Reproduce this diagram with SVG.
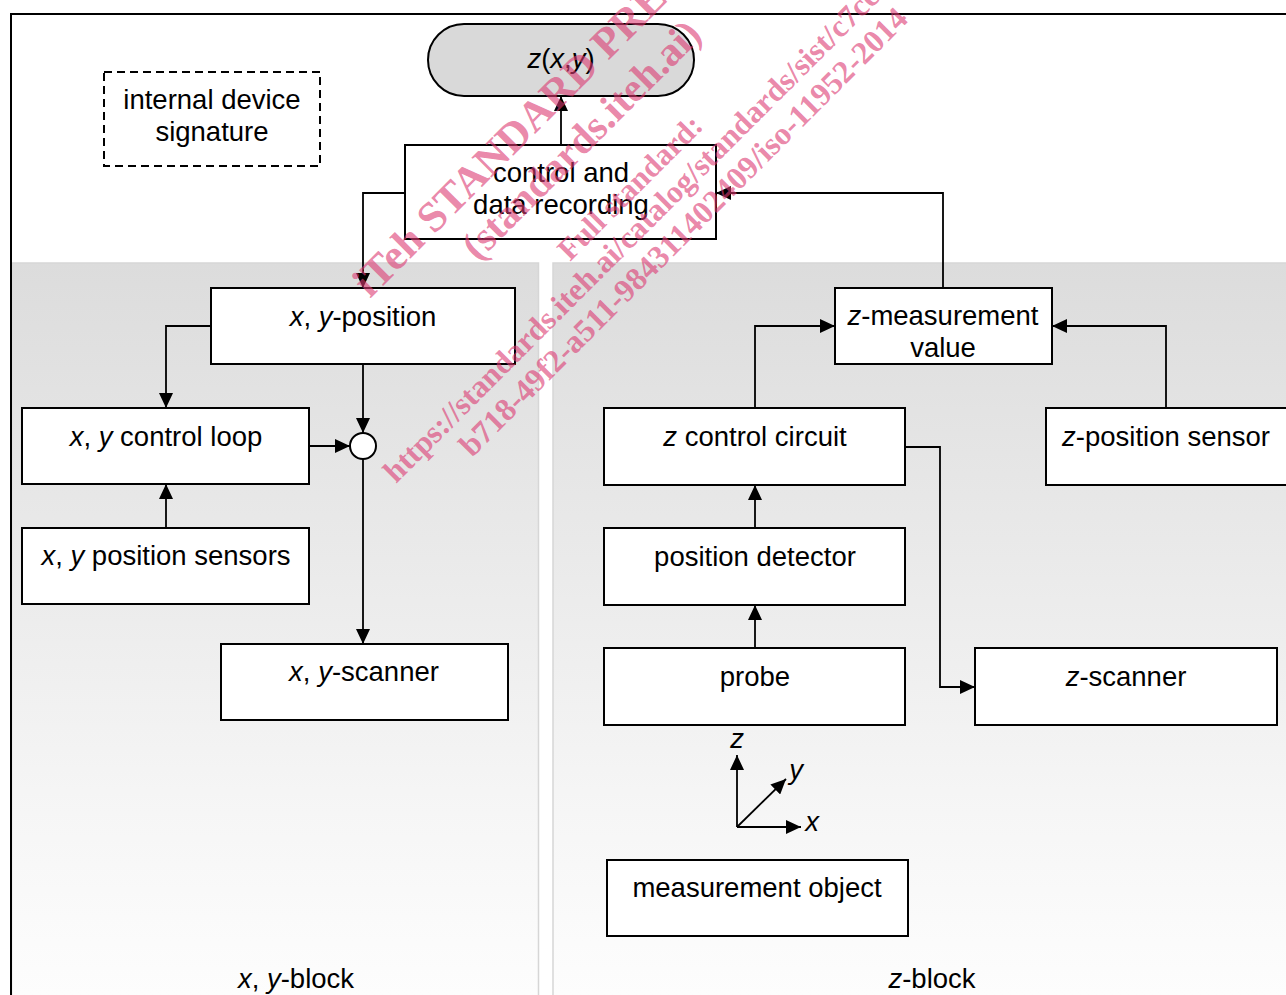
<svg xmlns="http://www.w3.org/2000/svg" width="1286" height="995" viewBox="0 0 1286 995">
<style>
.box{fill:#fff;stroke:#000;stroke-width:2}
.t{font-family:"Liberation Sans",Arial,sans-serif;font-size:27.5px;fill:#000;text-anchor:middle}
.i{font-style:italic}
.c{fill:none;stroke:#000;stroke-width:1.8;marker-end:url(#ah)}
.ax{fill:none;stroke:#000;stroke-width:1.8;marker-end:url(#ah)}
.wm{font-family:"Liberation Serif","Times New Roman",serif;font-weight:bold;fill:#dc3a72;fill-opacity:.62}
</style>
<defs>
<linearGradient id="g" gradientUnits="userSpaceOnUse" x1="0" y1="263" x2="0" y2="995">
<stop offset="0" stop-color="#dcdcdc"/>
<stop offset="0.75" stop-color="#f6f6f6"/>
<stop offset="1" stop-color="#fdfdfd"/>
</linearGradient>
<marker id="ah" markerUnits="userSpaceOnUse" markerWidth="15" markerHeight="14" refX="15" refY="7" orient="auto"><path d="M0,0 L15,7 L0,14 z" fill="#000"/></marker>
</defs>
<rect width="1286" height="995" fill="#fff"/>
<g id="blocks">
<rect x="11.5" y="263" width="527" height="740" fill="url(#g)" stroke="#d6d6d6" stroke-width="1.5"/>
<rect x="553" y="263" width="740" height="740" fill="url(#g)" stroke="#d6d6d6" stroke-width="1.5"/>
<path d="M11 995 V14 H1286" fill="none" stroke="#000" stroke-width="2"/>
<text class="t" x="296" y="988"><tspan class="i">x</tspan>, <tspan class="i">y</tspan>-block</text>
<text class="t" x="932" y="988"><tspan class="i">z</tspan>-block</text>
</g>
<g id="connectors">
<path class="c" d="M561 145 V96"/>
<path class="c" d="M405 193 H363 V288"/>
<path class="c" d="M943 288 V193 H716"/>
<path class="c" d="M211 326 H166 V408"/>
<path class="c" d="M363 364 V433"/>
<path class="c" d="M309 446 H350"/>
<path class="c" d="M363 459 V644"/>
<path class="c" d="M166 528 V484"/>
<path class="c" d="M755 408 V326 H835"/>
<path class="c" d="M1166 408 V326 H1052"/>
<path class="c" d="M905 447 H940 V687 H975"/>
<path class="c" d="M755 528 V485"/>
<path class="c" d="M755 648 V605"/>
</g>
<g id="zxy"><rect x="428" y="24" width="266" height="72" rx="36" fill="#d9d9d9" stroke="#000" stroke-width="2"/><text class="t" x="561" y="68"><tspan class="i">z</tspan>(<tspan class="i">x</tspan>,<tspan class="i">y</tspan>)</text></g>
<g id="control"><rect class="box" x="405" y="145" width="311" height="94"/><text class="t" x="561" y="182">control and</text><text class="t" x="561" y="214">data recording</text></g>
<g id="signature"><rect x="104" y="72" width="216" height="94" fill="#fff" stroke="#000" stroke-width="2" stroke-dasharray="8,5"/><text class="t" x="212" y="109">internal device</text><text class="t" x="212" y="141">signature</text></g>
<g id="xypos"><rect class="box" x="211" y="288" width="304" height="76"/><text class="t" x="363" y="326"><tspan class="i">x</tspan>, <tspan class="i">y</tspan>-position</text></g>
<g id="xyloop"><rect class="box" x="22" y="408" width="287" height="76"/><text class="t" x="166" y="446"><tspan class="i">x</tspan>, <tspan class="i">y</tspan> control loop</text></g>
<g id="xysensors"><rect class="box" x="22" y="528" width="287" height="76"/><text class="t" x="166" y="565"><tspan class="i">x</tspan>, <tspan class="i">y</tspan> position sensors</text></g>
<g id="xyscanner"><rect class="box" x="221" y="644" width="287" height="76"/><text class="t" x="364" y="681"><tspan class="i">x</tspan>, <tspan class="i">y</tspan>-scanner</text></g>
<g id="sum"><circle cx="363" cy="446" r="13" fill="#fff" stroke="#000" stroke-width="2"/></g>
<g id="zmeas"><rect class="box" x="835" y="288" width="217" height="76"/><text class="t" x="943" y="325"><tspan class="i">z</tspan>-measurement</text><text class="t" x="943" y="357">value</text></g>
<g id="zcontrol"><rect class="box" x="604" y="408" width="301" height="77"/><text class="t" x="755" y="446"><tspan class="i">z</tspan> control circuit</text></g>
<g id="zsensor"><rect class="box" x="1046" y="408" width="245" height="77"/><text class="t" x="1166" y="446"><tspan class="i">z</tspan>-position sensor</text></g>
<g id="detector"><rect class="box" x="604" y="528" width="301" height="77"/><text class="t" x="755" y="566">position detector</text></g>
<g id="probe"><rect class="box" x="604" y="648" width="301" height="77"/><text class="t" x="755" y="686">probe</text></g>
<g id="zscanner"><rect class="box" x="975" y="648" width="302" height="77"/><text class="t" x="1126" y="686"><tspan class="i">z</tspan>-scanner</text></g>
<g id="object"><rect class="box" x="607" y="860" width="301" height="76"/><text class="t" x="757" y="897">measurement object</text></g>
<g id="axes">
<path class="ax" d="M737 827 V755"/>
<path class="ax" d="M737 827 H801"/>
<path class="ax" d="M737 827 L786 779"/>
<text class="t i" x="737" y="748">z</text>
<text class="t i" x="796" y="779">y</text>
<text class="t i" x="812" y="831">x</text>
</g>
<g id="watermark">
<text class="wm" font-size="43" transform="translate(370 299) rotate(-45)">iTeh STANDARD PREVIEW</text>
<text class="wm" font-size="41" transform="translate(478 262) rotate(-45)">(standards.iteh.ai)</text>
<text class="wm" font-size="31" transform="translate(570 262) rotate(-45)">Full standard:</text>
<text class="wm" font-size="31.5" transform="translate(396 484) rotate(-45)">https://standards.iteh.ai/catalog/standards/sist/c7ce</text>
<text class="wm" font-size="32" transform="translate(472 458) rotate(-45)">b718-49f2-a511-984311402409/iso-11952-2014</text>
</g>
</svg>
